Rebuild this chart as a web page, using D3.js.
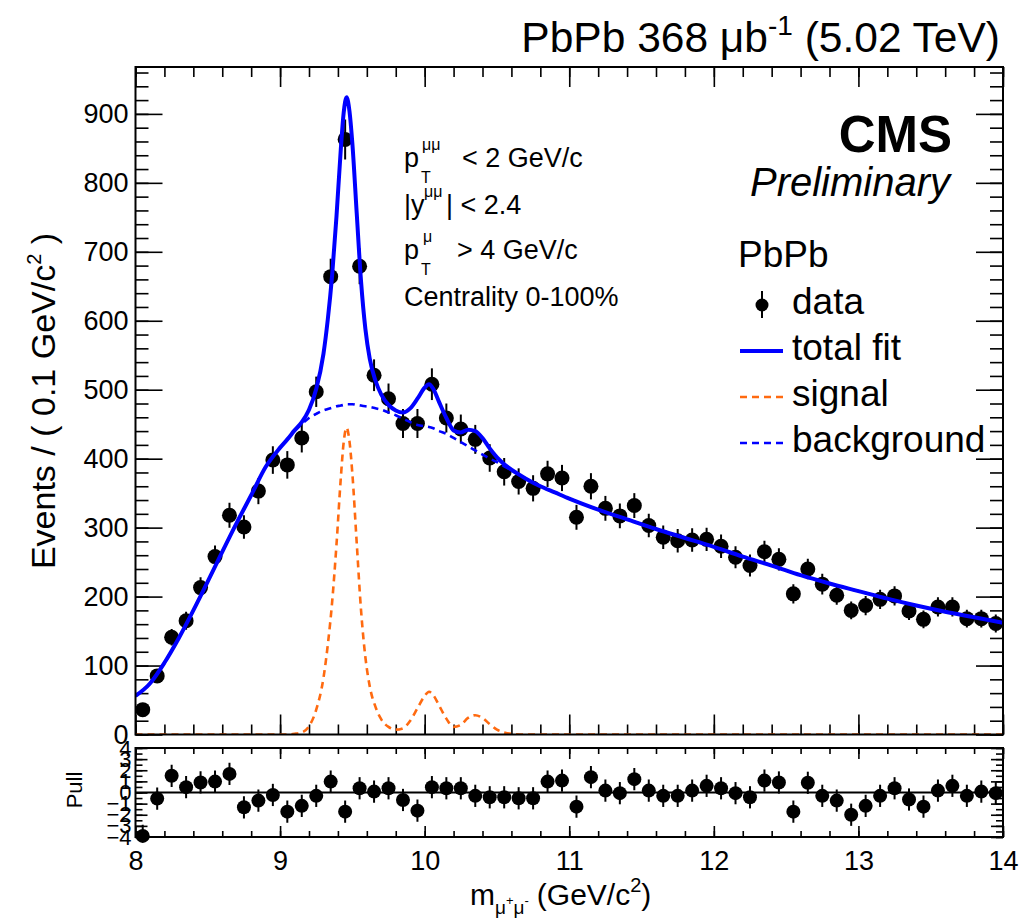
<!DOCTYPE html>
<html>
<head>
<meta charset="utf-8">
<script src="https://cdn.jsdelivr.net/npm/d3@7"></script>
<style>
  body { margin: 0; background: #fff; }
  svg text { font-family: "Liberation Sans", Arial, Helvetica, sans-serif; fill: #000; }
</style>
</head>
<body>
<svg id="chart" width="1034" height="919"></svg>
<script>
// ---- dimuon invariant mass histogram (0.1 GeV bins) ----
const binCenters = [
  8.05, 8.15, 8.25, 8.35, 8.45, 8.55, 8.65, 8.75, 8.85, 8.95,
  9.05, 9.15, 9.25, 9.35, 9.45, 9.55, 9.65, 9.75, 9.85, 9.95,
  10.05, 10.15, 10.25, 10.35, 10.45, 10.55, 10.65, 10.75, 10.85, 10.95,
  11.05, 11.15, 11.25, 11.35, 11.45, 11.55, 11.65, 11.75, 11.85, 11.95,
  12.05, 12.15, 12.25, 12.35, 12.45, 12.55, 12.65, 12.75, 12.85, 12.95,
  13.05, 13.15, 13.25, 13.35, 13.45, 13.55, 13.65, 13.75, 13.85, 13.95
];
const eventCounts = [
  36, 85, 141, 165, 213, 258, 318, 301, 353, 398,
  391, 430, 497, 664, 863, 679, 521, 487, 451, 451,
  508, 459, 443, 428, 401, 381, 367, 357, 378, 372,
  315, 360, 328, 317, 332, 303, 286, 281, 282, 283,
  273, 257, 245, 265, 254, 204, 240, 218, 202, 180,
  187, 196, 201, 179, 167, 185, 185, 168, 168, 161
];
const countErrors = [
  6, 9, 12, 13, 15, 16, 18, 17, 19, 20,
  20, 21, 22, 26, 29, 26, 23, 22, 21, 21,
  23, 21, 21, 21, 20, 20, 19, 19, 19, 19,
  18, 19, 18, 18, 18, 17, 17, 17, 17, 17,
  17, 16, 16, 16, 16, 14, 15, 15, 14, 13,
  14, 14, 14, 13, 13, 14, 14, 13, 13, 13
];
const pullValues = [
  -3.9, -0.55, 1.5, 0.48, 0.9, 0.98, 1.67, -1.33, -0.73, -0.22,
  -1.72, -1.2, -0.3, 0.98, -1.72, 0.38, 0.08, 0.38, -0.67, -1.63,
  0.48, 0.38, 0.38, -0.3, -0.43, -0.43, -0.52, -0.52, 0.98, 1.07,
  -1.27, 1.38, 0.17, -0.06, 1.2, 0.17, -0.3, -0.3, 0.17, 0.6,
  0.38, -0.06, -0.43, 1.07, 0.9, -1.72, 0.87, -0.3, -0.73, -2.0,
  -1.2, -0.3, 0.38, -0.63, -1.27, 0.17, 0.6, -0.3, 0.08, -0.06
];

// ---- fit components sampled along the mass axis ----
const fitMass = [
  8.0, 8.1, 8.2, 8.3, 8.4, 8.5, 8.6, 8.7, 8.8, 8.9,
  9.0, 9.05, 9.1, 9.15, 9.2, 9.25, 9.3, 9.33, 9.36, 9.39,
  9.42, 9.44, 9.46, 9.48, 9.5, 9.53, 9.56, 9.59, 9.62, 9.66,
  9.7, 9.75, 9.8, 9.85, 9.9, 9.95, 10.0, 10.03, 10.06, 10.1,
  10.15, 10.2, 10.25, 10.3, 10.35, 10.4, 10.45, 10.5, 10.55, 10.6,
  10.7, 10.8, 10.9, 11.0, 11.2, 11.4, 11.6, 11.8, 12.0, 12.2,
  12.4, 12.6, 12.8, 13.0, 13.2, 13.4, 13.6, 13.8, 14.0
];
const backgroundFit = [
  56, 74, 104, 140, 180, 222, 265, 307, 347, 388,
  416, 428, 440, 450, 459, 465, 470, 472, 474, 476,
  477, 478, 479, 479, 479, 478, 477, 476, 475, 473,
  471, 467, 463, 458, 453, 449, 447, 446, 444, 440,
  436, 430, 424, 418, 412, 406, 400, 395, 389, 383,
  371, 360, 351, 342, 326, 312, 298, 285, 272, 258,
  245, 231, 219, 208, 197, 187, 178, 170, 162
];
const signalFit = [
  0, 0, 0, 0, 0, 0, 0, 0, 0, 0,
  0, 0, 1, 3, 12, 36, 82, 130, 192, 275,
  372, 424, 445, 425, 378, 278, 180, 112, 70, 40,
  22, 11, 7, 9, 20, 38, 56, 62, 57, 42,
  23, 11, 14, 24, 28, 24, 15, 7, 3, 1,
  0, 0, 0, 0, 0, 0, 0, 0, 0, 0,
  0, 0, 0, 0, 0, 0, 0, 0, 0
];
// total fit = background + signal at each sampled mass
const totalFit = backgroundFit.map((b, i) => b + signalFit[i]);

const yMajorTicks = [0, 100, 200, 300, 400, 500, 600, 700, 800, 900];
const xMajorTicks = [8, 9, 10, 11, 12, 13, 14];
const pullTicks = [-4, -3, -2, -1, 0, 1, 2, 3, 4];

const legendLabels = ["data", "total fit", "signal", "background"];
const cutLabels = ["< 2 GeV/c", "| < 2.4", "> 4 GeV/c", "Centrality 0-100%"];

// ---- layout ----
const svg = d3.select("#chart");
const L = 135.5, R = 1003, T = 67, B = 734.5;
const PT = 748, PB = 837;
const BLUE = "#0000ff", ORANGE = "#ff6a10";

const x = d3.scaleLinear().domain([8, 14]).range([L, R]);
const y = d3.scaleLinear().domain([0, 968]).range([B, T]);
const yp = d3.scaleLinear().domain([-4, 4]).range([PB, PT]);

svg.append("rect").attr("width", 1034).attr("height", 919).attr("fill", "#fff");

const defs = svg.append("defs");
defs.append("clipPath").attr("id", "mainClip")
  .append("rect").attr("x", L).attr("y", T).attr("width", R - L).attr("height", B - T);
defs.append("clipPath").attr("id", "pullClip")
  .append("rect").attr("x", L).attr("y", PT).attr("width", R - L).attr("height", PB - PT);

function styleAxis(g, size) {
  g.select(".domain").remove();
  g.selectAll("line").attr("stroke", "#000").attr("stroke-width", 1.6);
  g.selectAll("text").attr("font-family", "Liberation Sans, Arial, sans-serif")
    .attr("font-size", size).attr("fill", "#000");
}
const minorRange = (a, b, s) => d3.range(Math.round((b - a) / s) + 1).map(i => +(a + i * s).toFixed(3));

// ---- main panel axes ----
svg.append("g").attr("transform", `translate(${L},0)`)
  .call(d3.axisLeft(y).tickValues(yMajorTicks).tickSize(-27).tickPadding(7).tickFormat(d3.format("d")))
  .call(g => styleAxis(g, 27));
svg.append("g").attr("transform", `translate(${L},0)`)
  .call(d3.axisLeft(y).tickValues(minorRange(0, 960, 20)).tickSize(-13).tickFormat(""))
  .call(g => styleAxis(g, 0));
svg.append("g").attr("transform", `translate(${R},0)`)
  .call(d3.axisRight(y).tickValues(yMajorTicks).tickSize(-27).tickFormat(""))
  .call(g => styleAxis(g, 0));
svg.append("g").attr("transform", `translate(${R},0)`)
  .call(d3.axisRight(y).tickValues(minorRange(0, 960, 20)).tickSize(-13).tickFormat(""))
  .call(g => styleAxis(g, 0));
svg.append("g").attr("transform", `translate(0,${B})`)
  .call(d3.axisBottom(x).tickValues(xMajorTicks).tickSize(-20).tickFormat(""))
  .call(g => styleAxis(g, 0));
svg.append("g").attr("transform", `translate(0,${B})`)
  .call(d3.axisBottom(x).tickValues(minorRange(8, 14, 0.2)).tickSize(-10).tickFormat(""))
  .call(g => styleAxis(g, 0));
svg.append("g").attr("transform", `translate(0,${T})`)
  .call(d3.axisTop(x).tickValues(xMajorTicks).tickSize(-20).tickFormat(""))
  .call(g => styleAxis(g, 0));
svg.append("g").attr("transform", `translate(0,${T})`)
  .call(d3.axisTop(x).tickValues(minorRange(8, 14, 0.2)).tickSize(-10).tickFormat(""))
  .call(g => styleAxis(g, 0));

// ---- pull panel axes ----
svg.append("g").attr("transform", `translate(0,${PB})`)
  .call(d3.axisBottom(x).tickValues(xMajorTicks).tickSize(-11).tickPadding(14).tickFormat(d3.format("d")))
  .call(g => styleAxis(g, 27));
svg.append("g").attr("transform", `translate(0,${PB})`)
  .call(d3.axisBottom(x).tickValues(minorRange(8, 14, 0.2)).tickSize(-6).tickFormat(""))
  .call(g => styleAxis(g, 0));
svg.append("g").attr("transform", `translate(0,${PT})`)
  .call(d3.axisTop(x).tickValues(xMajorTicks).tickSize(-11).tickFormat(""))
  .call(g => styleAxis(g, 0));
svg.append("g").attr("transform", `translate(0,${PT})`)
  .call(d3.axisTop(x).tickValues(minorRange(8, 14, 0.2)).tickSize(-6).tickFormat(""))
  .call(g => styleAxis(g, 0));
svg.append("g").attr("transform", `translate(${L},0)`)
  .call(d3.axisLeft(yp).tickValues(pullTicks).tickSize(-12).tickPadding(4).tickFormat(d3.format("d")))
  .call(g => styleAxis(g, 22));
svg.append("g").attr("transform", `translate(${L},0)`)
  .call(d3.axisLeft(yp).tickValues(minorRange(-4, 4, 0.5)).tickSize(-7).tickFormat(""))
  .call(g => styleAxis(g, 0));
svg.append("g").attr("transform", `translate(${R},0)`)
  .call(d3.axisRight(yp).tickValues(pullTicks).tickSize(-12).tickFormat(""))
  .call(g => styleAxis(g, 0));
svg.append("g").attr("transform", `translate(${R},0)`)
  .call(d3.axisRight(yp).tickValues(minorRange(-4, 4, 0.5)).tickSize(-7).tickFormat(""))
  .call(g => styleAxis(g, 0));

// ---- data points with vertical error bars ----
const dataG = svg.append("g");
dataG.append("g").attr("clip-path", "url(#mainClip)").selectAll("line")
  .data(binCenters).join("line")
  .attr("x1", d => x(d)).attr("x2", d => x(d))
  .attr("y1", (d, i) => y(eventCounts[i] - countErrors[i]))
  .attr("y2", (d, i) => y(eventCounts[i] + countErrors[i]))
  .attr("stroke", "#000").attr("stroke-width", 2);
dataG.selectAll("circle").data(binCenters).join("circle")
  .attr("cx", d => x(d)).attr("cy", (d, i) => y(eventCounts[i]))
  .attr("r", 7.5).attr("fill", "#000");

// ---- fit curves ----
const fitPts = fitMass.map((m, i) => ({ m, bg: backgroundFit[i], sig: signalFit[i], tot: totalFit[i] }));
const curveG = svg.append("g").attr("clip-path", "url(#mainClip)");
const lineOf = key => d3.line().x(d => x(d.m)).y(d => y(d[key])).curve(d3.curveMonotoneX);
curveG.append("path").datum(fitPts).attr("d", lineOf("tot"))
  .attr("fill", "none").attr("stroke", BLUE).attr("stroke-width", 4);
curveG.append("path").datum(fitPts).attr("d", lineOf("sig"))
  .attr("fill", "none").attr("stroke", ORANGE).attr("stroke-width", 2.6).attr("stroke-dasharray", "7,5");
curveG.append("path").datum(fitPts).attr("d", lineOf("bg"))
  .attr("fill", "none").attr("stroke", BLUE).attr("stroke-width", 2.6).attr("stroke-dasharray", "7,5");

// ---- pull panel ----
svg.append("line").attr("x1", x(8)).attr("x2", x(14)).attr("y1", yp(0)).attr("y2", yp(0))
  .attr("stroke", "#000").attr("stroke-width", 2);
svg.append("g").attr("clip-path", "url(#pullClip)").selectAll("line")
  .data(binCenters).join("line")
  .attr("x1", d => x(d)).attr("x2", d => x(d))
  .attr("y1", (d, i) => yp(pullValues[i] - 1)).attr("y2", (d, i) => yp(pullValues[i] + 1))
  .attr("stroke", "#000").attr("stroke-width", 2);
svg.append("g").selectAll("circle").data(binCenters).join("circle")
  .attr("cx", d => x(d)).attr("cy", (d, i) => yp(pullValues[i]))
  .attr("r", 7).attr("fill", "#000");

// ---- frames ----
svg.append("rect").attr("x", L).attr("y", T).attr("width", R - L).attr("height", B - T)
  .attr("fill", "none").attr("stroke", "#000").attr("stroke-width", 2);
svg.append("rect").attr("x", L).attr("y", PT).attr("width", R - L).attr("height", PB - PT)
  .attr("fill", "none").attr("stroke", "#000").attr("stroke-width", 2);

// ---- titles ----
const title = svg.append("text").attr("x", 1000).attr("y", 52).attr("text-anchor", "end").attr("font-size", 42.5);
title.append("tspan").text("PbPb 368 \u03bcb");
title.append("tspan").attr("font-size", 28).attr("dy", -17).text("-1");
title.append("tspan").attr("dy", 17).text(" (5.02 TeV)");

svg.append("text").attr("x", 952).attr("y", 152).attr("text-anchor", "end")
  .attr("font-size", 51).attr("font-weight", "bold").text("CMS");
svg.append("text").attr("x", 950).attr("y", 196).attr("text-anchor", "end")
  .attr("font-size", 40).attr("font-style", "italic").text("Preliminary");

const yTitle = svg.append("text").attr("transform", "translate(55,401) rotate(-90)")
  .attr("text-anchor", "middle").attr("font-size", 34);
yTitle.append("tspan").text("Events / ( 0.1 GeV/c");
yTitle.append("tspan").attr("font-size", 20).attr("dy", -14).text("2");
yTitle.append("tspan").attr("dy", 14).text(" )");

const xTitle = svg.append("text").attr("x", 470).attr("y", 905).attr("font-size", 30);
xTitle.append("tspan").text("m");
xTitle.append("tspan").attr("font-size", 19).attr("dy", 9).text("\u03bc");
xTitle.append("tspan").attr("font-size", 13).attr("dy", -9).text("+");
xTitle.append("tspan").attr("font-size", 19).attr("dy", 9).text("\u03bc");
xTitle.append("tspan").attr("font-size", 13).attr("dy", -9).text("-");
xTitle.append("tspan").attr("dx", 8).text("(GeV/c");
xTitle.append("tspan").attr("font-size", 20).attr("dy", -13).text("2");
xTitle.append("tspan").attr("dy", 13).text(")");

svg.append("text").attr("transform", "translate(82,790) rotate(-90)")
  .attr("text-anchor", "middle").attr("font-size", 22).text("Pull");

// ---- selection cuts ----
const cuts = svg.append("g").attr("font-size", 27);
function piece(g, txt, px, py, size) {
  g.append("text").attr("x", px).attr("y", py).attr("font-size", size).text(txt);
}
piece(cuts, "p", 404, 167, 27);
piece(cuts, "T", 421, 183, 16);
piece(cuts, "\u03bc\u03bc", 422, 150, 16);
piece(cuts, cutLabels[0], 462, 167, 27);
piece(cuts, "|y", 404, 214, 27);
piece(cuts, "\u03bc\u03bc", 424, 197, 16);
piece(cuts, cutLabels[1], 446, 214, 27);
piece(cuts, "p", 404, 259, 27);
piece(cuts, "T", 421, 275, 16);
piece(cuts, "\u03bc", 423, 242, 16);
piece(cuts, cutLabels[2], 457, 259, 27);
piece(cuts, cutLabels[3], 404, 306, 27);

// ---- legend ----
svg.append("text").attr("x", 738).attr("y", 267).attr("font-size", 37).text("PbPb");
const legY = [314, 360, 406, 452];
const leg = svg.append("g");
legendLabels.forEach((lab, i) => {
  leg.append("text").attr("x", 792).attr("y", legY[i]).attr("font-size", 37).text(lab);
});
leg.append("line").attr("x1", 762).attr("x2", 762).attr("y1", 291).attr("y2", 318)
  .attr("stroke", "#000").attr("stroke-width", 2);
leg.append("circle").attr("cx", 762).attr("cy", 305).attr("r", 6.5).attr("fill", "#000");
leg.append("line").attr("x1", 740).attr("x2", 783).attr("y1", 351).attr("y2", 351)
  .attr("stroke", BLUE).attr("stroke-width", 4);
leg.append("line").attr("x1", 740).attr("x2", 783).attr("y1", 397).attr("y2", 397)
  .attr("stroke", ORANGE).attr("stroke-width", 2.6).attr("stroke-dasharray", "7,5");
leg.append("line").attr("x1", 740).attr("x2", 783).attr("y1", 443).attr("y2", 443)
  .attr("stroke", BLUE).attr("stroke-width", 2.6).attr("stroke-dasharray", "7,5");
</script>
</body>
</html>
